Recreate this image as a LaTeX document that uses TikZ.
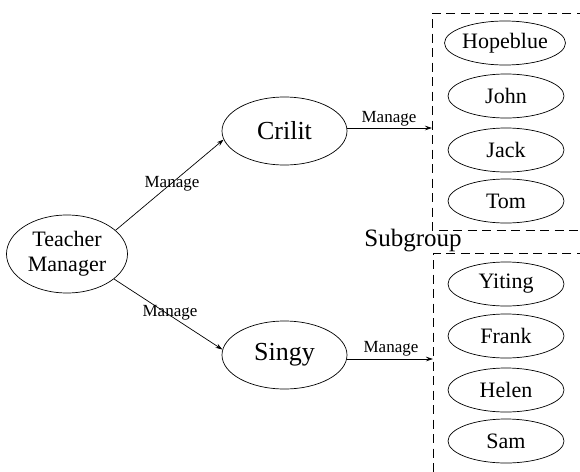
\documentclass[tikz,border=0pt]{standalone}
\usepackage{fontspec}
\setmainfont{Liberation Serif}
\usetikzlibrary{shapes.geometric,arrows.meta}
\begin{document}
\begin{tikzpicture}[x=1pt,y=-1pt,
  every node/.style={inner sep=0pt},
  ell/.style={draw,ellipse,line width=0.7pt},
  bigell/.style={ell,minimum width=125pt,minimum height=68pt,font=\fontsize{26}{28}\selectfont},
  memb/.style={ell,minimum width=116pt,minimum height=44pt,font=\fontsize{22}{24}\selectfont},
  lbl/.style={font=\fontsize{17}{19}\selectfont},
  arr/.style={line width=0.7pt,-{Stealth[length=7pt,width=4.5pt]}},
  box/.style={line width=0.8pt,dash pattern=on 9pt off 5.5pt}]
\useasboundingbox (0,0) rectangle (580,471);
% nodes
\node[ell,minimum width=121pt,minimum height=78pt,align=center,
      font=\fontsize{22}{25}\selectfont] (tm) at (67,254) {Teacher\\Manager};
\node[bigell] (cr) at (284.5,131) {Crilit};
\node[bigell] (sg) at (284.5,355) {Singy};
\node[memb] (hb) at (505,43) {Hopeblue};
\node[memb] (jo) at (506,96) {John};
\node[memb] (ja) at (506,150) {Jack};
\node[memb] (to) at (506,201) {Tom};
\node[memb] (yi) at (506,284) {Yiting};
\node[memb] (fr) at (506,336) {Frank};
\node[memb] (he) at (506,390) {Helen};
\node[memb] (sa) at (506,441) {Sam};
% dashed group boxes
\coordinate (g1) at (432,128);
\coordinate (g2) at (433,359);
\draw[box] (600,13) -- (432,13) -- (432,230) -- (600,230);
\draw[box] (600,253) -- (433,253) -- (433,490);
\node[font=\fontsize{25}{27}\selectfont] (sub) at (413,241) {Subgroup};
% connectors
\draw[arr] (tm.26) -- (cr.188);
\draw[arr] (tm.-28) -- (sg.175);
\draw[arr] (g1 -| cr.east) -- (g1);
\draw[arr] (g2 -| sg.east) -- (g2);
\node[lbl] (l1) at (172,184) {Manage};
\node[lbl] (l2) at (170,313) {Manage};
\node[lbl] (l3) at (389,119) {Manage};
\node[lbl] (l4) at (391,349) {Manage};
\end{tikzpicture}
\end{document}
